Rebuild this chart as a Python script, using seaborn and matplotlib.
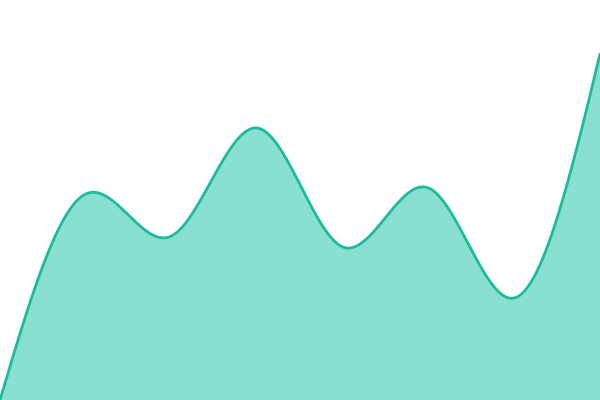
import numpy as np
import pandas as pd
import matplotlib
matplotlib.use("Agg")
import matplotlib.pyplot as plt
import seaborn as sns

# Data (evenly spaced points)
categories = [0, 1, 2, 3, 4, 5, 6, 7]
values = [0, 206, 164, 272, 153, 212, 102, 346]

LINE = "#1abc9c"
FILL = "#8ae0d0"


def natural_curve(xs, ys, steps=60):
    """Smooth rendering of the points (natural cubic spline, like d3.curveNatural)."""
    xs = np.asarray(xs, float)
    ys = np.asarray(ys, float)
    n = len(xs)
    h = np.diff(xs)
    A = np.zeros((n, n))
    b = np.zeros(n)
    A[0, 0] = 1
    A[-1, -1] = 1
    for i in range(1, n - 1):
        A[i, i - 1] = h[i - 1]
        A[i, i] = 2 * (h[i - 1] + h[i])
        A[i, i + 1] = h[i]
        b[i] = 6 * ((ys[i + 1] - ys[i]) / h[i] - (ys[i] - ys[i - 1]) / h[i - 1])
    M = np.linalg.solve(A, b)
    outx, outy = [], []
    for i in range(n - 1):
        x = np.linspace(xs[i], xs[i + 1], steps)
        if i > 0:
            x = x[1:]
        a = xs[i + 1] - x
        c = x - xs[i]
        y = (M[i] * a ** 3 + M[i + 1] * c ** 3) / (6 * h[i]) \
            + (ys[i] / h[i] - M[i] * h[i] / 6) * a \
            + (ys[i + 1] / h[i] - M[i + 1] * h[i] / 6) * c
        outx.append(x)
        outy.append(y)
    return np.concatenate(outx), np.concatenate(outy)


sx, sy = natural_curve(categories, values)
df = pd.DataFrame({"x": sx, "y": sy})

sns.set_theme(style="white")
fig = plt.figure(figsize=(6, 4), dpi=100)
ax = fig.add_axes([0, 0, 1, 1])
ax.fill_between(df["x"], df["y"], 0, color=FILL, linewidth=0)
sns.lineplot(data=df, x="x", y="y", ax=ax, color=LINE, linewidth=2.0, sort=False, estimator=None)
ax.set_xlim(categories[0], categories[-1])
ax.set_ylim(0, 400)
ax.set_axis_off()
fig.savefig("out.png", dpi=100)
